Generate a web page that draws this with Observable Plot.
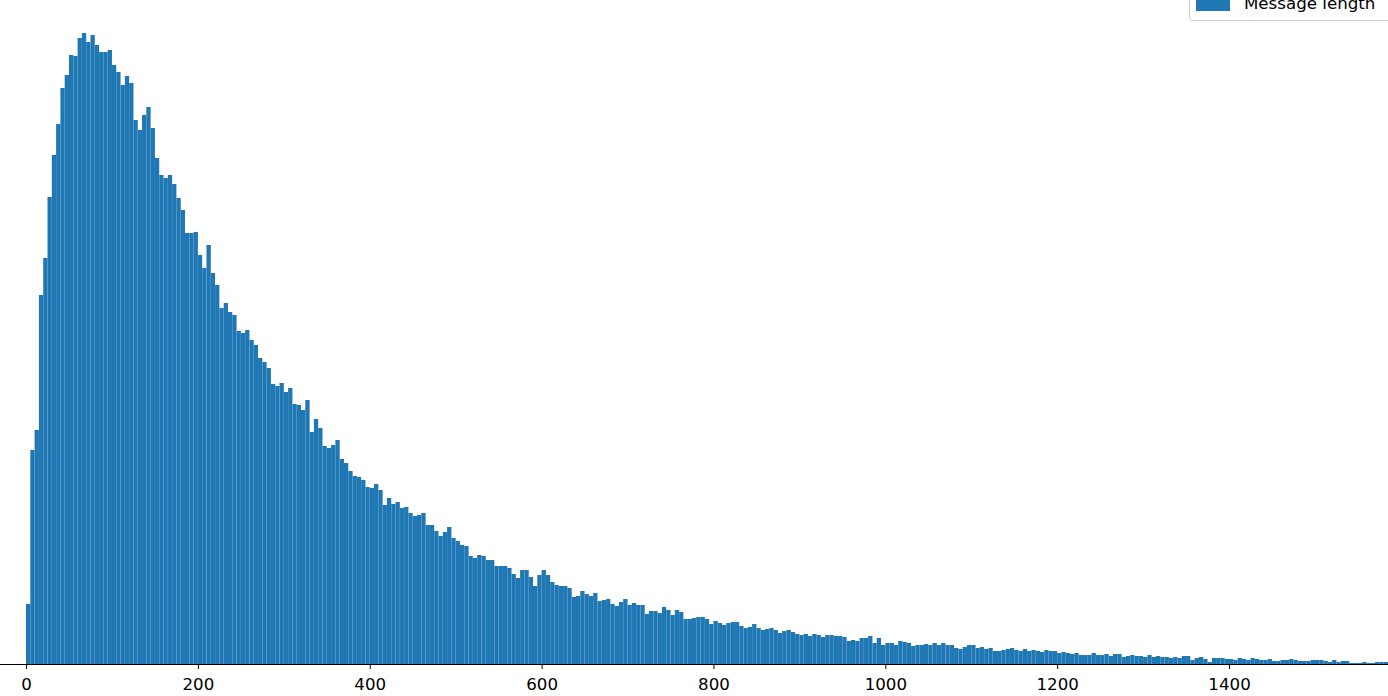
<!DOCTYPE html>
<html>
<head>
<meta charset="utf-8">
<script src="https://cdn.jsdelivr.net/npm/d3@7"></script>
<script src="https://cdn.jsdelivr.net/npm/@observablehq/plot@0.6"></script>
<style>
  html, body { margin: 0; padding: 0; background: #fff; overflow: hidden; }
  #wrap { position: relative; width: 1388px; height: 696px; overflow: hidden; font-family: "DejaVu Sans", sans-serif; }
  #legend {
    position: absolute; left: 1189px; top: -10px; width: 215px; height: 31px;
    border: 1px solid #cccccc; border-radius: 3px; background: rgba(255,255,255,0.8);
    box-sizing: border-box;
  }
  #legend .patch { position: absolute; left: 6px; top: 8px; width: 34px; height: 12px; background: #1f77b4; }
  #legend .label { position: absolute; left: 54px; top: 3px; font-size: 16.67px; color: #000; line-height: 20px; white-space: nowrap; }
</style>
</head>
<body>
<div id="wrap">
  <div id="chart"></div>
  <div id="legend"><div class="patch"></div><div class="label">Message length</div></div>
</div>
<script>
// Message length histogram: counts per 5-character bin, starting at length 0
const seriesName = "Message length";
const binWidth = 5;
const counts = [
  300, 1070, 1170, 1845, 2030, 2335, 2545, 2700, 2880, 2945,
  3045, 3040, 3130, 3155, 3110, 3145, 3095, 3060, 3060, 3070,
  2995, 2960, 2895, 2940, 2905, 2720, 2670, 2745, 2785, 2680,
  2530, 2445, 2430, 2445, 2400, 2330, 2270, 2155, 2155, 2160,
  2045, 1980, 2095, 1955, 1895, 1780, 1805, 1760, 1745, 1665,
  1655, 1670, 1620, 1595, 1530, 1510, 1480, 1400, 1390, 1405,
  1360, 1380, 1300, 1295, 1270, 1320, 1160, 1225, 1180, 1090,
  1080, 1095, 1120, 1025, 1005, 965, 940, 935, 920, 885,
  880, 900, 870, 795, 830, 800, 810, 780, 785, 755,
  740, 745, 755, 695, 695, 665, 640, 660, 685, 630,
  615, 595, 590, 540, 530, 545, 540, 520, 520, 490,
  490, 490, 480, 450, 430, 470, 470, 435, 390, 445,
  470, 445, 410, 395, 390, 390, 380, 335, 340, 365,
  350, 340, 355, 315, 320, 325, 300, 290, 310, 325,
  295, 305, 295, 295, 250, 265, 265, 255, 285, 270,
  245, 270, 260, 225, 225, 230, 235, 235, 225, 200,
  215, 205, 195, 205, 210, 210, 190, 180, 185, 200,
  180, 170, 175, 180, 170, 155, 165, 170, 160, 150,
  145, 150, 140, 150, 145, 135, 145, 145, 140, 140,
  135, 115, 120, 115, 130, 130, 140, 105, 130, 95,
  105, 105, 95, 115, 110, 105, 90, 95, 95, 100,
  95, 105, 95, 105, 95, 95, 80, 75, 85, 95,
  95, 80, 85, 75, 80, 65, 65, 70, 75, 80,
  70, 65, 75, 65, 70, 65, 60, 70, 65, 65,
  55, 60, 55, 50, 55, 45, 45, 45, 55, 45,
  45, 50, 40, 50, 50, 35, 40, 45, 40, 40,
  35, 45, 35, 40, 35, 35, 30, 35, 30, 40,
  40, 20, 30, 35, 25, 10, 30, 30, 30, 25,
  25, 20, 30, 25, 20, 30, 25, 20, 20, 25,
  15, 15, 20, 20, 25, 20, 15, 15, 15, 20,
  20, 20, 15, 10, 20, 10, 15, 15, 5, 5,
  5, 10, 5, 5, 10, 10, 10
];
const xTicks = [0, 200, 400, 600, 800, 1000, 1200, 1400];
const xDomain = [-30.3, 1585];
const yDomain = [0, 3320];

const table = counts.map((c, i) => ({start: i * binWidth, end: (i + 1) * binWidth, count: c}));

const chart = Plot.plot({
  width: 1388,
  height: 696,
  marginLeft: 0,
  marginRight: 0,
  marginTop: 0,
  marginBottom: 32,
  style: {fontFamily: "DejaVu Sans", fontSize: "16.67px", color: "#000", background: "#fff"},
  x: {domain: xDomain},
  y: {domain: yDomain, axis: null},
  marks: [
    Plot.rectY(table, {x1: "start", x2: "end", y: "count", fill: "#1f77b4"}),
    Plot.ruleY([0], {stroke: "#000", strokeWidth: 1}),
    Plot.axisX({ticks: xTicks, tickSize: 5, tickPadding: 9, tickFormat: d => String(d), label: null, fontSize: 16.67})
  ]
});
document.getElementById("chart").appendChild(chart);
</script>
</body>
</html>
